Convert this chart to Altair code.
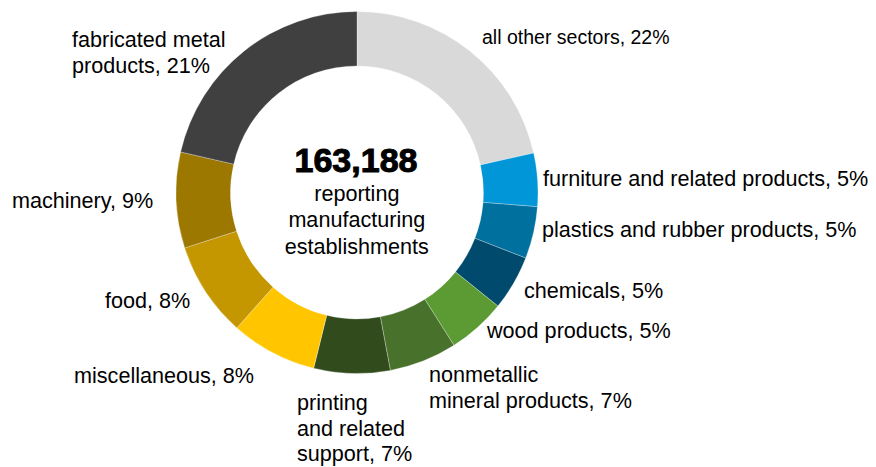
import altair as alt
import pandas as pd

# ---- data ----
sectors = [
    "all other sectors", "furniture and related products", "plastics and rubber products",
    "chemicals", "wood products", "nonmetallic mineral products", "printing and related support",
    "miscellaneous", "food", "machinery", "fabricated metal products",
]
shares = [21.5, 4.75, 4.65, 4.9, 5.2, 6.05, 6.8, 7.7, 8.5, 8.55, 21.4]
pct_labels = ["22%", "5%", "5%", "5%", "5%", "7%", "7%", "8%", "8%", "9%", "21%"]
label_texts = [
    "all other sectors, 22%",
    "furniture and related products, 5%",
    "plastics and rubber products, 5%",
    "chemicals, 5%",
    "wood products, 5%",
    "nonmetallic\nmineral products, 7%",
    "printing\nand related\nsupport, 7%",
    "miscellaneous, 8%",
    "food, 8%",
    "machinery, 9%",
    "fabricated metal\nproducts, 21%",
]
colors = ["#d9d9d9", "#0096d7", "#00709f", "#004a6d", "#5c9a33", "#48722c",
          "#314b1d", "#ffc600", "#c49700", "#9c7800", "#404040"]
total_label = "163,188"
center_lines = "reporting\nmanufacturing\nestablishments"

# ---- layout (annotation anchors, chart pixel coords) ----
label_x = [474, 535, 534, 516, 479, 421, 289, 66, 97, 4, 64]
label_y = [36, 178, 229, 290, 330, 374, 402, 375, 300, 200, 39]
label_size = [19.5, 21.6, 21.6, 21.6, 21.6, 21.6, 21.6, 21.6, 21.6, 21.6, 21.6]
CX, CY = 349, 184.5

df = pd.DataFrame({"sector": sectors, "share": shares, "idx": list(range(len(sectors)))})
lab = pd.DataFrame({"label": label_texts, "lx": label_x, "ly": label_y, "fs": label_size})

FONT = "Liberation Sans"

donut = alt.Chart(df).mark_arc(
    outerRadius=181, innerRadius=126.5, stroke="#ffffff", strokeWidth=0.4, strokeOpacity=0.7
).encode(
    theta=alt.Theta("share:Q", stack=True),
    order=alt.Order("idx:Q", sort="ascending"),
    color=alt.Color("sector:N", scale=alt.Scale(domain=sectors, range=colors), legend=None),
    x=alt.value(CX),
    y=alt.value(CY),
)

labels = alt.Chart(lab).mark_text(
    align="left", baseline="alphabetic", font=FONT, color="#000000",
    lineBreak="\n", lineHeight=25.5,
).encode(
    x=alt.X("lx:Q", scale=None),
    y=alt.Y("ly:Q", scale=None),
    size=alt.Size("fs:Q", scale=None),
    text="label:N",
)

center_num = alt.Chart(pd.DataFrame({"t": [total_label]})).mark_text(
    align="center", baseline="alphabetic", font=FONT, fontSize=34, fontWeight="bold",
    color="#000000", stroke="#000000", strokeWidth=1.0,
).encode(x=alt.value(348), y=alt.value(163.7), text="t:N")

center_txt = alt.Chart(pd.DataFrame({"t": [center_lines]})).mark_text(
    align="center", baseline="alphabetic", font=FONT, fontSize=21.6, color="#000000",
    lineBreak="\n", lineHeight=26.6,
).encode(x=alt.value(348.8), y=alt.value(192.7), text="t:N")

chart = alt.layer(donut, labels, center_num, center_txt).properties(
    width=860, height=459, autosize="none", padding=0
).configure_view(stroke=None)

chart.save("out.html", embed_options={"renderer": "svg", "actions": False})
